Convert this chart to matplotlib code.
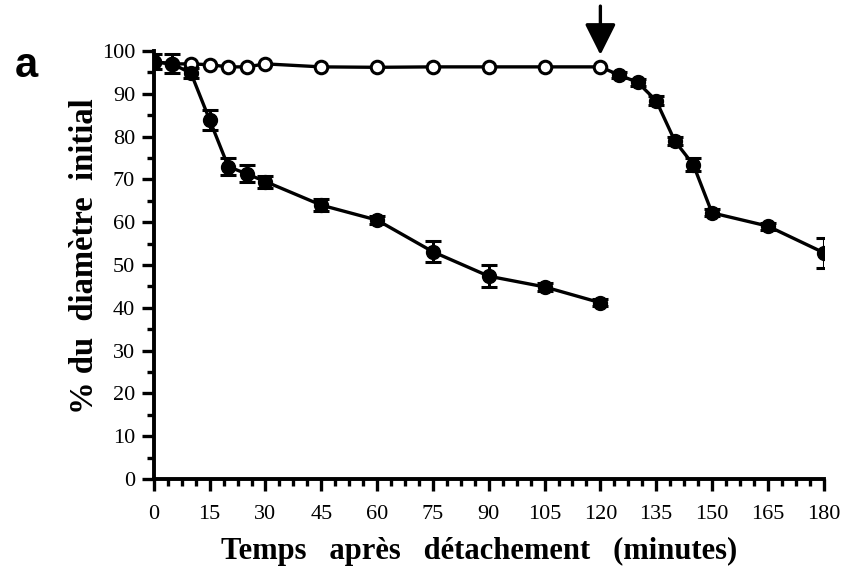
import numpy as np
import matplotlib.pyplot as plt
from matplotlib.ticker import MultipleLocator, AutoMinorLocator

# temps (minutes)
t_ctrl = [0, 5, 10, 15, 20, 25, 30, 45, 60, 75, 90, 105, 120]
# courbe pleine (detachement a t=0)
v_det = [97.5, 97.0, 94.8, 83.9, 73.0, 71.3, 69.5, 64.0, 60.5, 53.1, 47.4, 44.9, 41.2]
e_det = [1.8, 2.2, 1.2, 2.4, 2.0, 2.0, 1.4, 1.4, 1.0, 2.5, 2.6, 1.0, 0.8]
# courbe ouverte (temoin)
v_ctrl = [97.5, 97.0, 97.0, 96.8, 96.3, 96.3, 97.0, 96.3, 96.2, 96.3, 96.3, 96.3, 96.3]
# apres la fleche (120 min)
t_late = [125, 130, 135, 140, 145, 150, 165, 180]
v_late = [94.4, 92.7, 88.4, 79.0, 73.4, 62.2, 59.1, 52.9]
e_late = [0.8, 0.8, 1.0, 1.0, 1.5, 0.8, 0.8, 3.5]
t_arrow = 120

plt.rcParams['font.family'] = ['Liberation Serif', 'DejaVu Serif']

fig = plt.figure(figsize=(8.5, 5.8), dpi=100)
ax = fig.add_axes([0.181, 0.174, 0.788, 0.738])

lw = 2.4

# temoin (open), then the late filled curve continuing from its last point
ax.plot(t_ctrl, v_ctrl, '-', color='black', lw=lw, zorder=2)
ax.plot([t_ctrl[-1]] + t_late, [v_ctrl[-1]] + v_late, '-', color='black', lw=lw, zorder=2)
ax.plot(t_ctrl, v_ctrl, 'o', ms=9, mfc='white', mec='black', mew=2.2, zorder=3)

ax.errorbar(t_ctrl, v_det, yerr=e_det, fmt='-o', color='black', lw=lw, ms=10,
            elinewidth=2.2, capsize=5.5, capthick=2.2, zorder=4)
ax.errorbar(t_late, v_late, yerr=e_late, fmt='o', color='black', ms=10,
            elinewidth=2.2, capsize=5.5, capthick=2.2, zorder=4)

ax.annotate('', xy=(t_arrow, 99.1), xytext=(t_arrow, 110.5), annotation_clip=False,
            arrowprops=dict(arrowstyle='-|>,head_width=0.95,head_length=1.9',
                            color='black', lw=2.4, shrinkA=0, shrinkB=0))

ax.set_xlim(0, 180)
ax.set_ylim(0, 100)
ax.xaxis.set_major_locator(MultipleLocator(15))
ax.xaxis.set_minor_locator(AutoMinorLocator(4))
ax.yaxis.set_major_locator(MultipleLocator(10))
ax.yaxis.set_minor_locator(AutoMinorLocator(2))

for s in ['top', 'right']:
    ax.spines[s].set_visible(False)
for s in ['left', 'bottom']:
    ax.spines[s].set_linewidth(2.8)
ax.tick_params(which='major', direction='out', length=8.5, width=2.4, labelsize=16)
ax.tick_params(which='minor', direction='out', length=5, width=2.4)
ax.tick_params(axis='x', which='major', pad=10)
ax.tick_params(axis='y', which='major', pad=5)

ax.set_xlabel('Temps   après   détachement   (minutes)', fontsize=22, fontweight='bold')
ax.xaxis.set_label_coords(0.485, -0.135)
ax.set_ylabel('% du  diamètre  initial', fontsize=23.5, fontweight='bold')
ax.yaxis.set_label_coords(-0.08, 0.52)

fig.text(0.017, 0.886, 'a', fontsize=30, fontweight='bold', family='Liberation Sans',
         va='center')

fig.savefig('out.png', dpi=100)
